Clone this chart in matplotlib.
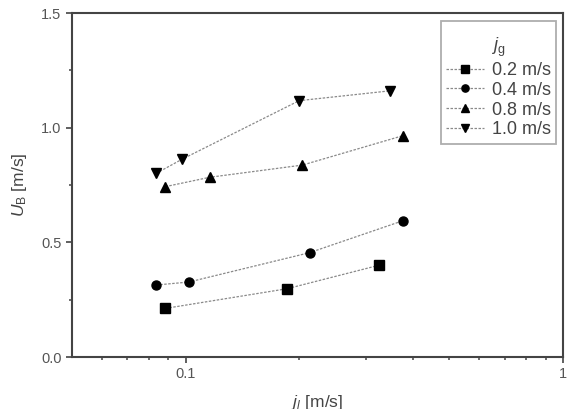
import matplotlib
matplotlib.use("Agg")
import matplotlib.pyplot as plt
from matplotlib.ticker import FixedLocator, NullFormatter

plt.rcParams['font.family'] = ['Liberation Sans', 'DejaVu Sans']
plt.rcParams['mathtext.fontset'] = 'custom'
plt.rcParams['mathtext.rm'] = 'Liberation Sans'
plt.rcParams['mathtext.it'] = 'Liberation Sans:italic'

# superficial liquid velocity j_l [m/s] and bubble velocity U_B [m/s] per gas velocity j_g
jl_02 = [0.0884, 0.186, 0.325]
ub_02 = [0.212, 0.298, 0.400]
jl_04 = [0.0836, 0.102, 0.213, 0.376]
ub_04 = [0.314, 0.327, 0.455, 0.594]
jl_08 = [0.0884, 0.116, 0.204, 0.376]
ub_08 = [0.743, 0.784, 0.837, 0.965]
jl_10 = [0.0836, 0.098, 0.200, 0.349]
ub_10 = [0.801, 0.863, 1.118, 1.161]

labels = ['0.2 m/s', '0.4 m/s', '0.8 m/s', '1.0 m/s']
markers = ['s', 'o', '^', 'v']

fig = plt.figure(figsize=(5.69, 4.09), dpi=100)
ax = fig.add_axes([0.1265, 0.1271, 0.863, 0.841])

series = [(jl_02, ub_02), (jl_04, ub_04), (jl_08, ub_08), (jl_10, ub_10)]
for (x, y), lab, m in zip(series, labels, markers):
    ax.plot(x, y, linestyle=(0, (2.0, 1.2)), color='#8a8a8a', linewidth=0.9,
            marker=m, markersize=6.5, markerfacecolor='black',
            markeredgecolor='black', label=lab)

ax.set_xscale('log')
ax.set_xlim(0.05, 1)
ax.set_ylim(0, 1.5)
ax.xaxis.set_major_locator(FixedLocator([0.1, 1]))
ax.set_xticklabels(['0.1', '1'])
ax.xaxis.set_minor_locator(FixedLocator([0.06, 0.07, 0.08, 0.09, 0.2, 0.3, 0.4,
                                         0.5, 0.6, 0.7, 0.8, 0.9]))
ax.xaxis.set_minor_formatter(NullFormatter())
ax.set_yticks([0.0, 0.5, 1.0, 1.5])
ax.set_yticklabels(['0.0', '0.5', '1.0', '1.5'])
ax.yaxis.set_minor_locator(FixedLocator([0.25, 0.75, 1.25]))

for s in ax.spines.values():
    s.set_color('#444444')
    s.set_linewidth(1.5)
ax.tick_params(which='major', direction='out', length=4.5, width=1.2, pad=3,
               colors='#444444', labelcolor='#555555', labelsize=10.5)
ax.tick_params(which='minor', direction='out', length=2.5, width=1.1,
               colors='#444444')
ax.tick_params(top=False, right=False)

ax.set_xlabel(r'$j_l$ [m/s]', fontsize=12.5, color='#444444', labelpad=8)
ax.set_ylabel(r'$U_{\rm B}$ [m/s]', fontsize=12.5, color='#444444', labelpad=9)

# leading empty line gives the title the extra room seen above it in the original
leg = ax.legend(title='\n' + r'$j_{\rm g}$', loc='upper right', fontsize=13,
                title_fontsize=13, frameon=True, fancybox=False,
                edgecolor='#999999', handlelength=2.1, handletextpad=0.45,
                borderpad=0.3, labelspacing=0.15, markerscale=0.8,
                bbox_to_anchor=(0.9865, 0.978), borderaxespad=0)
leg.get_title().set_linespacing(0.55)
leg.get_frame().set_linewidth(1.3)
for t in leg.get_texts():
    t.set_color('#444444')
leg.get_title().set_color('#444444')

fig.savefig('out.png', dpi=100)
